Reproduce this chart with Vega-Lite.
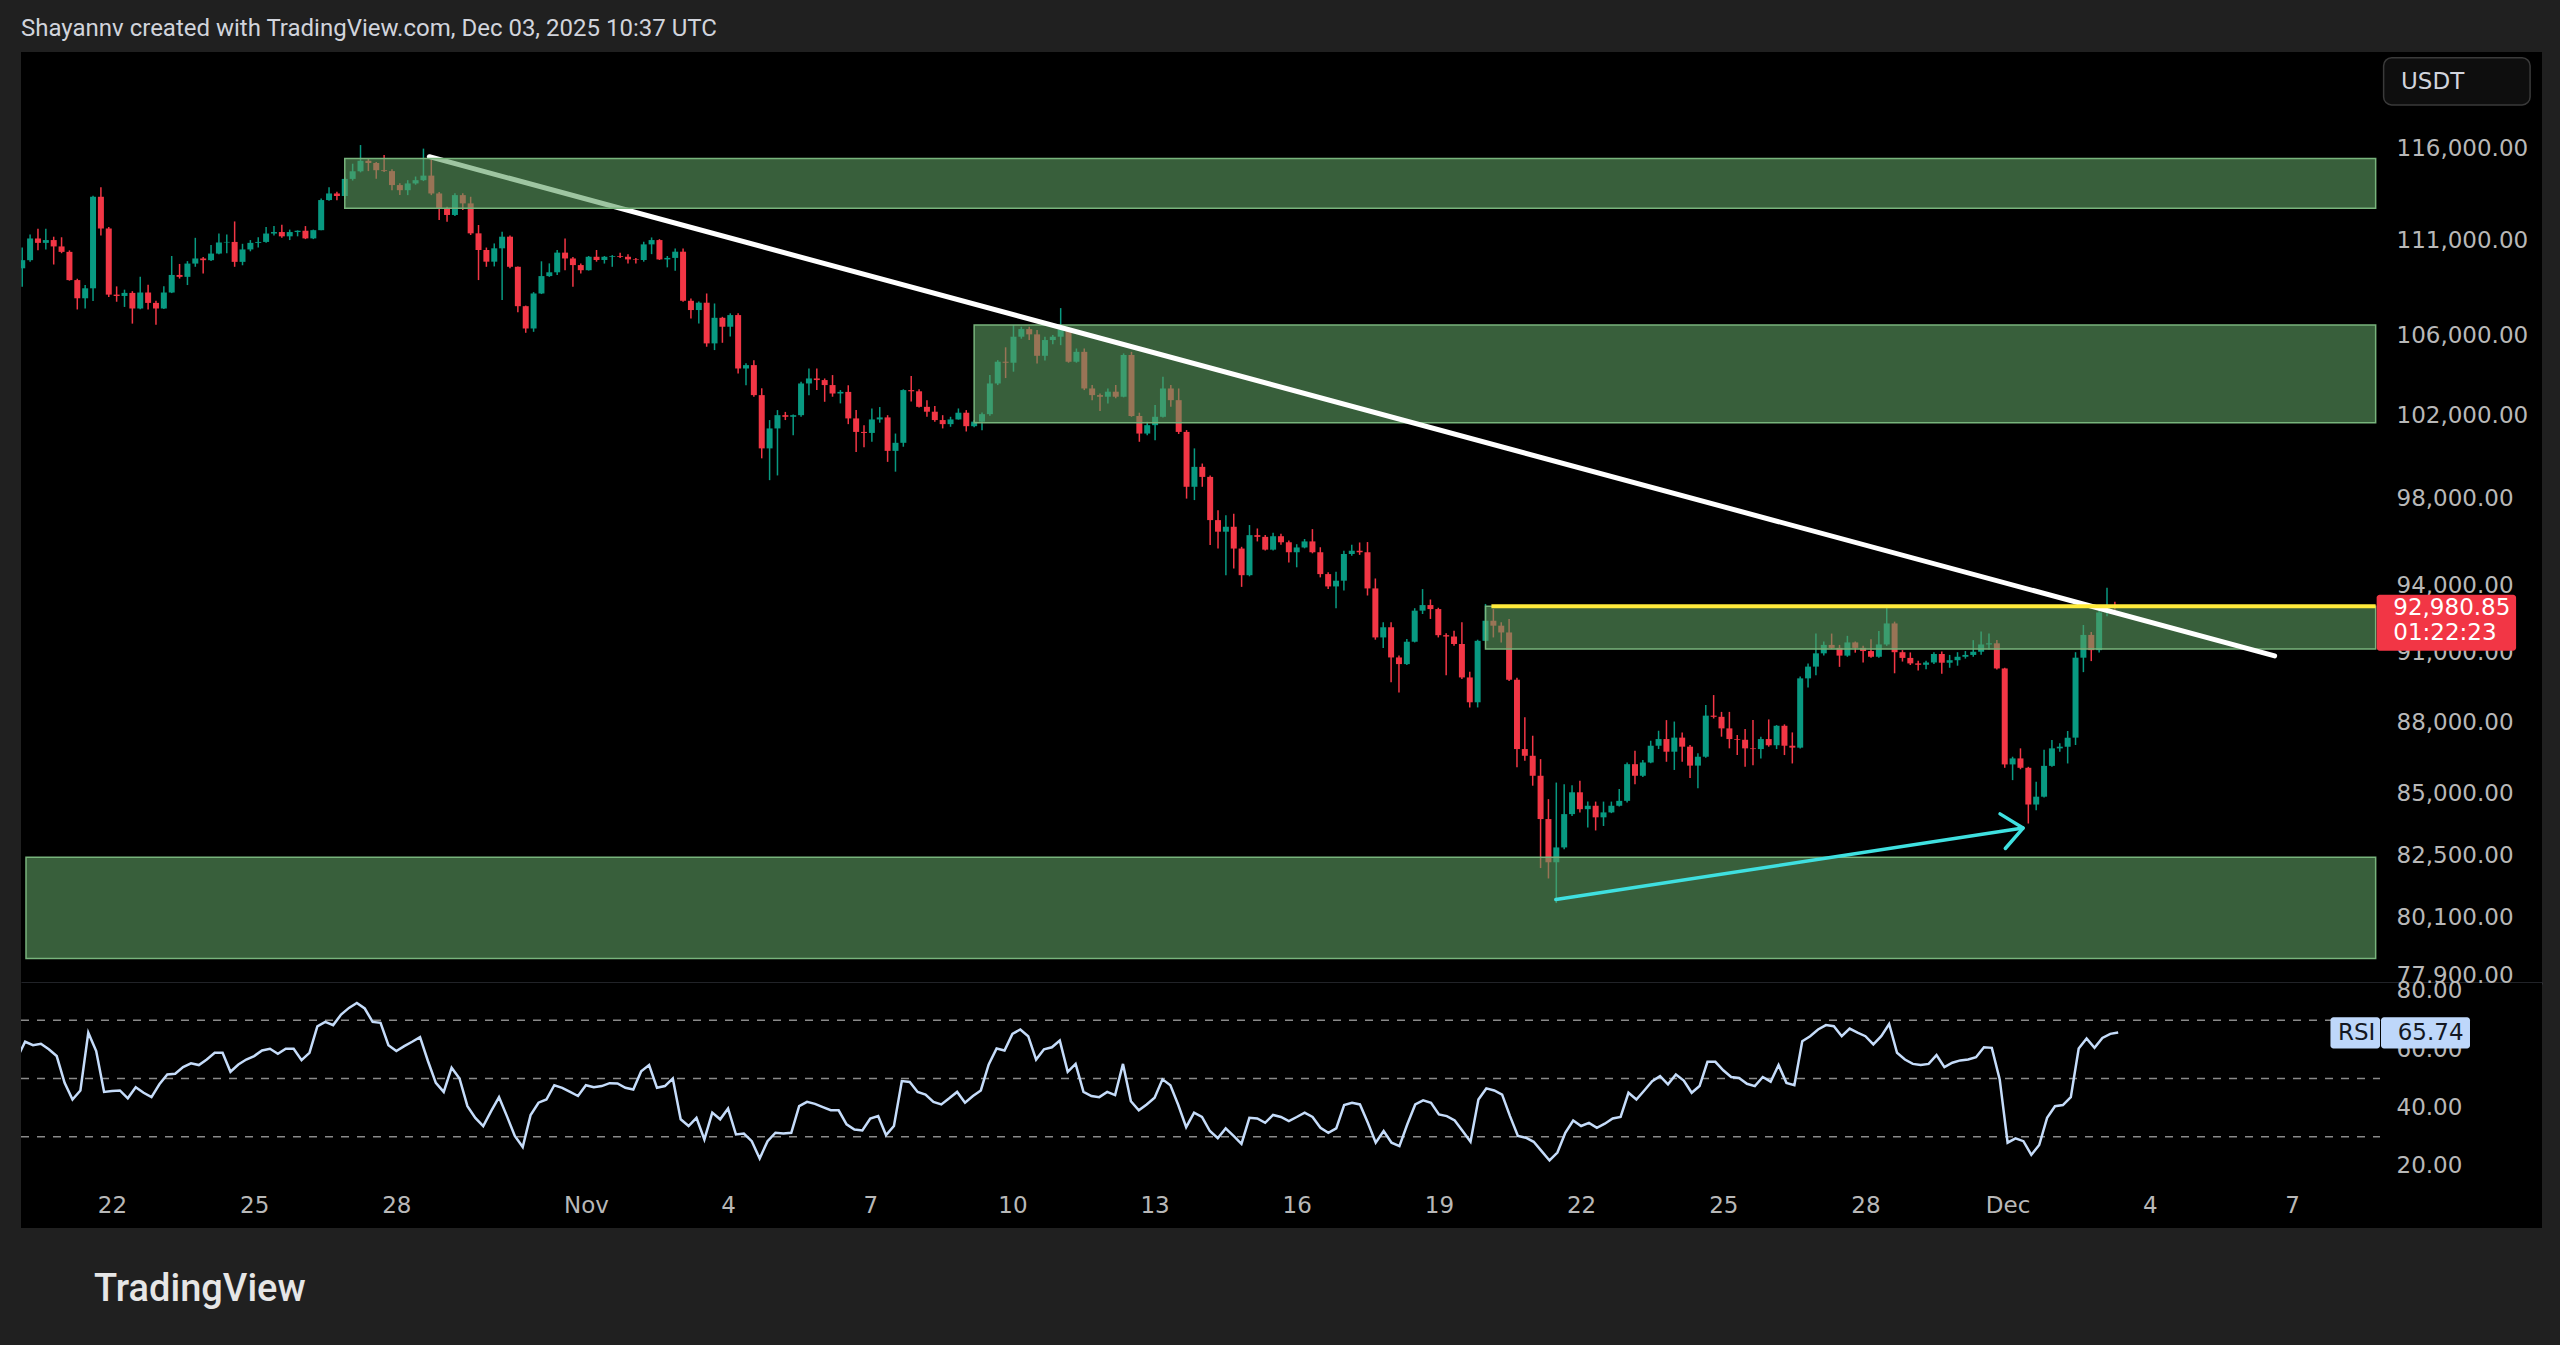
{
"$schema": "https://vega.github.io/schema/vega-lite/v6.json",
"background": "#202020",
"padding": {"left": 20, "right": 19, "top": 17, "bottom": 42},
"title": {"text": "Shayannv created with TradingView.com, Dec 03, 2025 10:37 UTC", "anchor": "start", "frame": "group", "font": "Roboto", "fontSize": 24, "fontWeight": "normal", "color": "#d1d4dc", "offset": 11},
"config": {
 "view": {"stroke": null, "fill": "#000000"},
 "axis": {"grid": false, "ticks": false, "domain": false, "labelFont": "DejaVu Sans", "labelFontSize": 23, "labelColor": "#b8b8b8"},
 "text": {"font": "DejaVu Sans"}
},
"spacing": 0,
"bounds": "flush",
"datasets": {
"candles": [
{"t":"2025-10-20T00:00Z","o":109500,"h":110600,"l":108530,"c":109930,"r":57.0},
{"t":"2025-10-20T04:00Z","o":109930,"h":111300,"l":109850,"c":111085,"r":62.6},
{"t":"2025-10-20T08:00Z","o":111085,"h":111600,"l":110460,"c":110850,"r":61.4},
{"t":"2025-10-20T12:00Z","o":110850,"h":111600,"l":110500,"c":111000,"r":61.9},
{"t":"2025-10-20T16:00Z","o":111000,"h":111180,"l":109700,"c":110660,"r":60.0},
{"t":"2025-10-20T20:00Z","o":110660,"h":111150,"l":110300,"c":110370,"r":57.7},
{"t":"2025-10-21T00:00Z","o":110370,"h":110450,"l":108850,"c":108880,"r":48.5},
{"t":"2025-10-21T04:00Z","o":108880,"h":108950,"l":107350,"c":107930,"r":42.8},
{"t":"2025-10-21T08:00Z","o":107930,"h":108620,"l":107400,"c":108450,"r":45.9},
{"t":"2025-10-21T12:00Z","o":108450,"h":113400,"l":107790,"c":113340,"r":65.7},
{"t":"2025-10-21T16:00Z","o":113340,"h":113860,"l":111250,"c":111620,"r":59.4},
{"t":"2025-10-21T20:00Z","o":111620,"h":111700,"l":108000,"c":108120,"r":45.4},
{"t":"2025-10-22T00:00Z","o":108120,"h":108550,"l":107750,"c":108050,"r":45.7},
{"t":"2025-10-22T04:00Z","o":108050,"h":108380,"l":107480,"c":108210,"r":45.9},
{"t":"2025-10-22T08:00Z","o":108210,"h":108300,"l":106620,"c":107400,"r":43.2},
{"t":"2025-10-22T12:00Z","o":107400,"h":109050,"l":107360,"c":108230,"r":47.0},
{"t":"2025-10-22T16:00Z","o":108230,"h":108640,"l":107350,"c":107690,"r":45.1},
{"t":"2025-10-22T20:00Z","o":107690,"h":107800,"l":106560,"c":107400,"r":43.6},
{"t":"2025-10-23T00:00Z","o":107400,"h":108560,"l":107380,"c":108230,"r":48.0},
{"t":"2025-10-23T04:00Z","o":108230,"h":110150,"l":108200,"c":109150,"r":51.4},
{"t":"2025-10-23T08:00Z","o":109150,"h":109730,"l":108960,"c":109050,"r":51.6},
{"t":"2025-10-23T12:00Z","o":109050,"h":109880,"l":108620,"c":109750,"r":53.9},
{"t":"2025-10-23T16:00Z","o":109750,"h":111120,"l":109580,"c":110020,"r":55.2},
{"t":"2025-10-23T20:00Z","o":110020,"h":110100,"l":109220,"c":109930,"r":54.6},
{"t":"2025-10-24T00:00Z","o":109930,"h":110730,"l":109880,"c":110280,"r":56.5},
{"t":"2025-10-24T04:00Z","o":110280,"h":111350,"l":110250,"c":110870,"r":58.8},
{"t":"2025-10-24T08:00Z","o":110870,"h":111300,"l":110300,"c":110900,"r":58.8},
{"t":"2025-10-24T12:00Z","o":110900,"h":112000,"l":109580,"c":109840,"r":52.3},
{"t":"2025-10-24T16:00Z","o":109840,"h":110800,"l":109660,"c":110500,"r":54.8},
{"t":"2025-10-24T20:00Z","o":110500,"h":111000,"l":110400,"c":110850,"r":56.5},
{"t":"2025-10-25T00:00Z","o":110850,"h":111150,"l":110600,"c":110900,"r":57.7},
{"t":"2025-10-25T04:00Z","o":110900,"h":111700,"l":110850,"c":111350,"r":59.6},
{"t":"2025-10-25T08:00Z","o":111350,"h":111750,"l":111250,"c":111430,"r":60.2},
{"t":"2025-10-25T12:00Z","o":111430,"h":111820,"l":111120,"c":111200,"r":58.5},
{"t":"2025-10-25T16:00Z","o":111200,"h":111560,"l":111000,"c":111430,"r":60.2},
{"t":"2025-10-25T20:00Z","o":111430,"h":111520,"l":111200,"c":111500,"r":60.2},
{"t":"2025-10-26T00:00Z","o":111500,"h":111750,"l":111050,"c":111090,"r":56.3},
{"t":"2025-10-26T04:00Z","o":111090,"h":111560,"l":111050,"c":111530,"r":58.8},
{"t":"2025-10-26T08:00Z","o":111530,"h":113250,"l":111530,"c":113160,"r":67.9},
{"t":"2025-10-26T12:00Z","o":113160,"h":113860,"l":113120,"c":113520,"r":69.4},
{"t":"2025-10-26T16:00Z","o":113520,"h":113610,"l":113150,"c":113380,"r":68.3},
{"t":"2025-10-26T20:00Z","o":113380,"h":114400,"l":113200,"c":114320,"r":71.9},
{"t":"2025-10-27T00:00Z","o":114320,"h":115160,"l":114230,"c":114740,"r":74.2},
{"t":"2025-10-27T04:00Z","o":114740,"h":116200,"l":114680,"c":115320,"r":75.9},
{"t":"2025-10-27T08:00Z","o":115320,"h":115450,"l":114750,"c":115200,"r":74.0},
{"t":"2025-10-27T12:00Z","o":115200,"h":115250,"l":114330,"c":114800,"r":69.4},
{"t":"2025-10-27T16:00Z","o":114800,"h":115650,"l":114700,"c":114750,"r":69.1},
{"t":"2025-10-27T20:00Z","o":114750,"h":114850,"l":113700,"c":113980,"r":61.4},
{"t":"2025-10-28T00:00Z","o":113980,"h":114080,"l":113430,"c":113700,"r":59.4},
{"t":"2025-10-28T04:00Z","o":113700,"h":114250,"l":113430,"c":114070,"r":61.1},
{"t":"2025-10-28T08:00Z","o":114070,"h":114450,"l":114000,"c":114250,"r":62.6},
{"t":"2025-10-28T12:00Z","o":114250,"h":116000,"l":114200,"c":114500,"r":64.2},
{"t":"2025-10-28T16:00Z","o":114500,"h":115380,"l":113430,"c":113520,"r":56.0},
{"t":"2025-10-28T20:00Z","o":113520,"h":113600,"l":112080,"c":112700,"r":48.5},
{"t":"2025-10-29T00:00Z","o":112700,"h":112800,"l":111990,"c":112350,"r":45.4},
{"t":"2025-10-29T04:00Z","o":112350,"h":113530,"l":112300,"c":113430,"r":53.7},
{"t":"2025-10-29T08:00Z","o":113430,"h":113530,"l":112620,"c":112980,"r":50.0},
{"t":"2025-10-29T12:00Z","o":112980,"h":113340,"l":111270,"c":111360,"r":40.5},
{"t":"2025-10-29T16:00Z","o":111360,"h":111810,"l":108880,"c":110470,"r":36.5},
{"t":"2025-10-29T20:00Z","o":110470,"h":110600,"l":109580,"c":109850,"r":33.7},
{"t":"2025-10-30T00:00Z","o":109850,"h":110820,"l":109600,"c":110560,"r":38.8},
{"t":"2025-10-30T04:00Z","o":110560,"h":111450,"l":107840,"c":111180,"r":43.6},
{"t":"2025-10-30T08:00Z","o":111180,"h":111250,"l":109500,"c":109580,"r":37.1},
{"t":"2025-10-30T12:00Z","o":109580,"h":109600,"l":107200,"c":107520,"r":30.3},
{"t":"2025-10-30T16:00Z","o":107520,"h":107550,"l":106150,"c":106370,"r":26.5},
{"t":"2025-10-30T20:00Z","o":106370,"h":108250,"l":106200,"c":108180,"r":37.5},
{"t":"2025-10-31T00:00Z","o":108180,"h":109870,"l":108150,"c":109090,"r":41.7},
{"t":"2025-10-31T04:00Z","o":109090,"h":109760,"l":109050,"c":109290,"r":42.8},
{"t":"2025-10-31T08:00Z","o":109290,"h":110470,"l":109150,"c":110330,"r":47.7},
{"t":"2025-10-31T12:00Z","o":110330,"h":111090,"l":109400,"c":110020,"r":46.8},
{"t":"2025-10-31T16:00Z","o":110020,"h":110100,"l":108530,"c":109670,"r":45.4},
{"t":"2025-10-31T20:00Z","o":109670,"h":109750,"l":109230,"c":109400,"r":44.0},
{"t":"2025-11-01T00:00Z","o":109400,"h":110150,"l":109380,"c":110110,"r":47.7},
{"t":"2025-11-01T04:00Z","o":110110,"h":110470,"l":109850,"c":109940,"r":47.0},
{"t":"2025-11-01T08:00Z","o":109940,"h":110150,"l":109750,"c":110110,"r":47.4},
{"t":"2025-11-01T12:00Z","o":110110,"h":110200,"l":109580,"c":110150,"r":48.4},
{"t":"2025-11-01T16:00Z","o":110150,"h":110330,"l":110050,"c":110110,"r":48.3},
{"t":"2025-11-01T20:00Z","o":110110,"h":110250,"l":109750,"c":109970,"r":46.8},
{"t":"2025-11-02T00:00Z","o":109970,"h":110050,"l":109750,"c":109940,"r":46.2},
{"t":"2025-11-02T04:00Z","o":109940,"h":110910,"l":109850,"c":110770,"r":52.5},
{"t":"2025-11-02T08:00Z","o":110770,"h":111140,"l":110250,"c":111000,"r":54.6},
{"t":"2025-11-02T12:00Z","o":111000,"h":111050,"l":109940,"c":109970,"r":46.8},
{"t":"2025-11-02T16:00Z","o":109970,"h":110150,"l":109550,"c":110050,"r":47.4},
{"t":"2025-11-02T20:00Z","o":110050,"h":110550,"l":109370,"c":110380,"r":50.0},
{"t":"2025-11-03T00:00Z","o":110380,"h":110550,"l":107750,"c":107800,"r":36.0},
{"t":"2025-11-03T04:00Z","o":107800,"h":107920,"l":106880,"c":107320,"r":33.7},
{"t":"2025-11-03T08:00Z","o":107320,"h":107760,"l":106630,"c":107700,"r":36.5},
{"t":"2025-11-03T12:00Z","o":107700,"h":108180,"l":105440,"c":105610,"r":29.1},
{"t":"2025-11-03T16:00Z","o":105610,"h":107660,"l":105270,"c":106920,"r":38.3},
{"t":"2025-11-03T20:00Z","o":106920,"h":106970,"l":105640,"c":106460,"r":36.0},
{"t":"2025-11-04T00:00Z","o":106460,"h":107150,"l":105960,"c":107060,"r":39.7},
{"t":"2025-11-04T04:00Z","o":107060,"h":107150,"l":104090,"c":104340,"r":30.8},
{"t":"2025-11-04T08:00Z","o":104340,"h":104600,"l":103500,"c":104510,"r":31.1},
{"t":"2025-11-04T12:00Z","o":104510,"h":104760,"l":102930,"c":103010,"r":28.5},
{"t":"2025-11-04T16:00Z","o":103010,"h":103350,"l":99920,"c":100400,"r":22.6},
{"t":"2025-11-04T20:00Z","o":100400,"h":101780,"l":98875,"c":101370,"r":28.5},
{"t":"2025-11-05T00:00Z","o":101370,"h":102270,"l":99100,"c":102020,"r":31.4},
{"t":"2025-11-05T04:00Z","o":102020,"h":102180,"l":101780,"c":101940,"r":31.1},
{"t":"2025-11-05T08:00Z","o":101940,"h":102050,"l":101040,"c":102020,"r":31.4},
{"t":"2025-11-05T12:00Z","o":102020,"h":103670,"l":101940,"c":103590,"r":40.5},
{"t":"2025-11-05T16:00Z","o":103590,"h":104340,"l":103000,"c":103840,"r":42.0},
{"t":"2025-11-05T20:00Z","o":103840,"h":104340,"l":103260,"c":103760,"r":41.3},
{"t":"2025-11-06T00:00Z","o":103760,"h":103840,"l":102680,"c":103510,"r":40.2},
{"t":"2025-11-06T04:00Z","o":103510,"h":104010,"l":102930,"c":103090,"r":39.1},
{"t":"2025-11-06T08:00Z","o":103090,"h":103260,"l":102600,"c":103170,"r":39.1},
{"t":"2025-11-06T12:00Z","o":103170,"h":103500,"l":101580,"c":101860,"r":34.3},
{"t":"2025-11-06T16:00Z","o":101860,"h":102268,"l":100230,"c":101200,"r":32.5},
{"t":"2025-11-06T20:00Z","o":101200,"h":101530,"l":100460,"c":101150,"r":32.2},
{"t":"2025-11-07T00:00Z","o":101150,"h":102350,"l":100720,"c":101810,"r":36.3},
{"t":"2025-11-07T04:00Z","o":101810,"h":102420,"l":101650,"c":101910,"r":37.1},
{"t":"2025-11-07T08:00Z","o":101910,"h":102020,"l":99750,"c":100280,"r":30.6},
{"t":"2025-11-07T12:00Z","o":100280,"h":101120,"l":99280,"c":100670,"r":33.7},
{"t":"2025-11-07T16:00Z","o":100670,"h":103300,"l":100480,"c":103260,"r":49.1},
{"t":"2025-11-07T20:00Z","o":103260,"h":103960,"l":102700,"c":103200,"r":48.8},
{"t":"2025-11-08T00:00Z","o":103200,"h":103300,"l":102400,"c":102430,"r":45.4},
{"t":"2025-11-08T04:00Z","o":102430,"h":102760,"l":101940,"c":102190,"r":44.5},
{"t":"2025-11-08T08:00Z","o":102190,"h":102470,"l":101700,"c":101780,"r":42.0},
{"t":"2025-11-08T12:00Z","o":101780,"h":102020,"l":101370,"c":101580,"r":41.1},
{"t":"2025-11-08T16:00Z","o":101580,"h":101940,"l":101450,"c":101810,"r":43.2},
{"t":"2025-11-08T20:00Z","o":101810,"h":102350,"l":101800,"c":102140,"r":45.4},
{"t":"2025-11-09T00:00Z","o":102140,"h":102270,"l":101220,"c":101480,"r":41.7},
{"t":"2025-11-09T04:00Z","o":101480,"h":101780,"l":101430,"c":101700,"r":44.0},
{"t":"2025-11-09T08:00Z","o":101700,"h":102150,"l":101280,"c":102070,"r":45.9},
{"t":"2025-11-09T12:00Z","o":102070,"h":104010,"l":101990,"c":103590,"r":54.8},
{"t":"2025-11-09T16:00Z","o":103590,"h":104760,"l":103510,"c":104680,"r":60.3},
{"t":"2025-11-09T20:00Z","o":104680,"h":105410,"l":103860,"c":104630,"r":59.6},
{"t":"2025-11-10T00:00Z","o":104630,"h":106550,"l":104180,"c":105950,"r":65.3},
{"t":"2025-11-10T04:00Z","o":105950,"h":106460,"l":105850,"c":106340,"r":66.8},
{"t":"2025-11-10T08:00Z","o":106340,"h":106460,"l":105780,"c":106070,"r":64.5},
{"t":"2025-11-10T12:00Z","o":106070,"h":106290,"l":104590,"c":104980,"r":56.5},
{"t":"2025-11-10T16:00Z","o":104980,"h":105950,"l":104740,"c":105780,"r":60.0},
{"t":"2025-11-10T20:00Z","o":105780,"h":106040,"l":105560,"c":105950,"r":60.7},
{"t":"2025-11-11T00:00Z","o":105950,"h":107420,"l":105520,"c":106320,"r":63.0},
{"t":"2025-11-11T04:00Z","o":106320,"h":106370,"l":104630,"c":104680,"r":52.3},
{"t":"2025-11-11T08:00Z","o":104680,"h":105350,"l":104630,"c":105180,"r":55.0},
{"t":"2025-11-11T12:00Z","o":105180,"h":105350,"l":103260,"c":103340,"r":45.4},
{"t":"2025-11-11T16:00Z","o":103340,"h":103510,"l":102760,"c":103010,"r":44.0},
{"t":"2025-11-11T20:00Z","o":103010,"h":103090,"l":102230,"c":102930,"r":43.6},
{"t":"2025-11-12T00:00Z","o":102930,"h":103340,"l":102600,"c":103180,"r":45.4},
{"t":"2025-11-12T04:00Z","o":103180,"h":103510,"l":102850,"c":102930,"r":44.3},
{"t":"2025-11-12T08:00Z","o":102930,"h":105100,"l":102900,"c":105020,"r":55.0},
{"t":"2025-11-12T12:00Z","o":105020,"h":105180,"l":101940,"c":101980,"r":42.2},
{"t":"2025-11-12T16:00Z","o":101980,"h":102140,"l":100720,"c":101120,"r":39.1},
{"t":"2025-11-12T20:00Z","o":101120,"h":101700,"l":101040,"c":101530,"r":41.1},
{"t":"2025-11-13T00:00Z","o":101530,"h":102520,"l":100800,"c":101940,"r":43.4},
{"t":"2025-11-13T04:00Z","o":101940,"h":103920,"l":101900,"c":103340,"r":49.7},
{"t":"2025-11-13T08:00Z","o":103340,"h":103510,"l":102430,"c":102760,"r":47.7},
{"t":"2025-11-13T12:00Z","o":102760,"h":103340,"l":101100,"c":101200,"r":40.9},
{"t":"2025-11-13T16:00Z","o":101200,"h":101290,"l":98000,"c":98560,"r":33.3},
{"t":"2025-11-13T20:00Z","o":98560,"h":100400,"l":97930,"c":99510,"r":38.3},
{"t":"2025-11-14T00:00Z","o":99510,"h":99670,"l":98560,"c":99030,"r":36.8},
{"t":"2025-11-14T04:00Z","o":99030,"h":99100,"l":95830,"c":96990,"r":32.0},
{"t":"2025-11-14T08:00Z","o":96990,"h":97450,"l":95670,"c":96450,"r":29.5},
{"t":"2025-11-14T12:00Z","o":96450,"h":97220,"l":94450,"c":96680,"r":32.9},
{"t":"2025-11-14T16:00Z","o":96680,"h":97290,"l":94750,"c":95670,"r":30.3},
{"t":"2025-11-14T20:00Z","o":95670,"h":95750,"l":93920,"c":94450,"r":27.6},
{"t":"2025-11-15T00:00Z","o":94450,"h":96760,"l":94400,"c":96290,"r":36.5},
{"t":"2025-11-15T04:00Z","o":96290,"h":96600,"l":96000,"c":96210,"r":36.3},
{"t":"2025-11-15T08:00Z","o":96210,"h":96300,"l":95580,"c":95620,"r":34.8},
{"t":"2025-11-15T12:00Z","o":95620,"h":96400,"l":95580,"c":96240,"r":37.5},
{"t":"2025-11-15T16:00Z","o":96240,"h":96360,"l":95840,"c":95960,"r":36.8},
{"t":"2025-11-15T20:00Z","o":95960,"h":96040,"l":95030,"c":95500,"r":35.4},
{"t":"2025-11-16T00:00Z","o":95500,"h":95870,"l":94810,"c":95720,"r":36.8},
{"t":"2025-11-16T04:00Z","o":95720,"h":96110,"l":95680,"c":96000,"r":38.3},
{"t":"2025-11-16T08:00Z","o":96000,"h":96570,"l":95450,"c":95500,"r":36.8},
{"t":"2025-11-16T12:00Z","o":95500,"h":95730,"l":94350,"c":94500,"r":33.1},
{"t":"2025-11-16T16:00Z","o":94500,"h":94580,"l":93820,"c":93940,"r":31.4},
{"t":"2025-11-16T20:00Z","o":93940,"h":94610,"l":92960,"c":94200,"r":32.9},
{"t":"2025-11-17T00:00Z","o":94200,"h":95570,"l":93760,"c":95420,"r":40.9},
{"t":"2025-11-17T04:00Z","o":95420,"h":95840,"l":95340,"c":95570,"r":41.7},
{"t":"2025-11-17T08:00Z","o":95570,"h":95950,"l":95380,"c":95500,"r":41.1},
{"t":"2025-11-17T12:00Z","o":95500,"h":95970,"l":93530,"c":93850,"r":34.8},
{"t":"2025-11-17T16:00Z","o":93850,"h":94300,"l":91560,"c":91660,"r":28.0},
{"t":"2025-11-17T20:00Z","o":91660,"h":92330,"l":91190,"c":92110,"r":32.0},
{"t":"2025-11-18T00:00Z","o":92110,"h":92330,"l":89700,"c":90780,"r":28.0},
{"t":"2025-11-18T04:00Z","o":90780,"h":90860,"l":89260,"c":90490,"r":26.8},
{"t":"2025-11-18T08:00Z","o":90490,"h":91590,"l":90450,"c":91470,"r":34.3},
{"t":"2025-11-18T12:00Z","o":91470,"h":92960,"l":91440,"c":92850,"r":41.1},
{"t":"2025-11-18T16:00Z","o":92850,"h":93820,"l":92700,"c":93100,"r":42.5},
{"t":"2025-11-18T20:00Z","o":93100,"h":93350,"l":92480,"c":92920,"r":41.7},
{"t":"2025-11-19T00:00Z","o":92920,"h":92980,"l":91660,"c":91760,"r":37.7},
{"t":"2025-11-19T04:00Z","o":91760,"h":91850,"l":90010,"c":91700,"r":37.1},
{"t":"2025-11-19T08:00Z","o":91700,"h":91960,"l":91290,"c":91370,"r":35.6},
{"t":"2025-11-19T12:00Z","o":91370,"h":92330,"l":89840,"c":89910,"r":32.0},
{"t":"2025-11-19T16:00Z","o":89910,"h":90160,"l":88620,"c":88840,"r":28.3},
{"t":"2025-11-19T20:00Z","o":88840,"h":91560,"l":88620,"c":91510,"r":42.8},
{"t":"2025-11-20T00:00Z","o":91510,"h":93150,"l":91500,"c":92400,"r":46.6},
{"t":"2025-11-20T04:00Z","o":92400,"h":92920,"l":91660,"c":92180,"r":45.9},
{"t":"2025-11-20T08:00Z","o":92180,"h":92330,"l":91440,"c":91880,"r":44.5},
{"t":"2025-11-20T12:00Z","o":91880,"h":92480,"l":89760,"c":89810,"r":37.1},
{"t":"2025-11-20T16:00Z","o":89810,"h":89900,"l":86100,"c":86860,"r":30.3},
{"t":"2025-11-20T20:00Z","o":86860,"h":88200,"l":86370,"c":86580,"r":29.7},
{"t":"2025-11-21T00:00Z","o":86580,"h":87420,"l":85340,"c":85750,"r":28.3},
{"t":"2025-11-21T04:00Z","o":85750,"h":86440,"l":82020,"c":83980,"r":25.1},
{"t":"2025-11-21T08:00Z","o":83980,"h":84790,"l":81610,"c":82250,"r":21.9},
{"t":"2025-11-21T12:00Z","o":82250,"h":85470,"l":80650,"c":82840,"r":24.6},
{"t":"2025-11-21T16:00Z","o":82840,"h":85400,"l":82770,"c":84180,"r":31.4},
{"t":"2025-11-21T20:00Z","o":84180,"h":85360,"l":84100,"c":85070,"r":35.6},
{"t":"2025-11-22T00:00Z","o":85070,"h":85540,"l":84250,"c":84380,"r":33.7},
{"t":"2025-11-22T04:00Z","o":84380,"h":84690,"l":83640,"c":84520,"r":34.8},
{"t":"2025-11-22T08:00Z","o":84520,"h":84690,"l":83520,"c":84050,"r":33.1},
{"t":"2025-11-22T12:00Z","o":84050,"h":84690,"l":83700,"c":84250,"r":34.5},
{"t":"2025-11-22T16:00Z","o":84250,"h":84690,"l":84220,"c":84520,"r":36.3},
{"t":"2025-11-22T20:00Z","o":84520,"h":85200,"l":84490,"c":84720,"r":36.8},
{"t":"2025-11-23T00:00Z","o":84720,"h":86300,"l":84650,"c":86230,"r":45.1},
{"t":"2025-11-23T04:00Z","o":86230,"h":86790,"l":85400,"c":85750,"r":42.8},
{"t":"2025-11-23T08:00Z","o":85750,"h":86400,"l":85700,"c":86300,"r":45.9},
{"t":"2025-11-23T12:00Z","o":86300,"h":87210,"l":86270,"c":87000,"r":49.1},
{"t":"2025-11-23T16:00Z","o":87000,"h":87630,"l":86860,"c":87280,"r":50.8},
{"t":"2025-11-23T20:00Z","o":87280,"h":88080,"l":86330,"c":86750,"r":48.0},
{"t":"2025-11-24T00:00Z","o":86750,"h":88020,"l":85990,"c":87340,"r":51.4},
{"t":"2025-11-24T04:00Z","o":87340,"h":87560,"l":86330,"c":86960,"r":49.3},
{"t":"2025-11-24T08:00Z","o":86960,"h":87030,"l":85660,"c":86170,"r":45.1},
{"t":"2025-11-24T12:00Z","o":86170,"h":86690,"l":85240,"c":86540,"r":47.4},
{"t":"2025-11-24T16:00Z","o":86540,"h":88720,"l":86500,"c":88270,"r":55.7},
{"t":"2025-11-24T20:00Z","o":88270,"h":89150,"l":88150,"c":88220,"r":55.7},
{"t":"2025-11-25T00:00Z","o":88220,"h":88430,"l":87380,"c":87730,"r":52.8},
{"t":"2025-11-25T04:00Z","o":87730,"h":88430,"l":86890,"c":87280,"r":50.5},
{"t":"2025-11-25T08:00Z","o":87280,"h":87450,"l":86610,"c":87250,"r":50.2},
{"t":"2025-11-25T12:00Z","o":87250,"h":87700,"l":86120,"c":86890,"r":48.2},
{"t":"2025-11-25T16:00Z","o":86890,"h":88080,"l":86190,"c":86860,"r":47.4},
{"t":"2025-11-25T20:00Z","o":86860,"h":87380,"l":86470,"c":87280,"r":50.5},
{"t":"2025-11-26T00:00Z","o":87280,"h":88110,"l":86960,"c":87020,"r":48.9},
{"t":"2025-11-26T04:00Z","o":87020,"h":87870,"l":86860,"c":87840,"r":54.6},
{"t":"2025-11-26T08:00Z","o":87840,"h":87900,"l":86610,"c":87000,"r":48.5},
{"t":"2025-11-26T12:00Z","o":87000,"h":87560,"l":86260,"c":86920,"r":47.7},
{"t":"2025-11-26T16:00Z","o":86920,"h":89950,"l":86880,"c":89870,"r":62.8},
{"t":"2025-11-26T20:00Z","o":89870,"h":90520,"l":89470,"c":90380,"r":64.5},
{"t":"2025-11-27T00:00Z","o":90380,"h":91830,"l":90010,"c":90960,"r":66.8},
{"t":"2025-11-27T04:00Z","o":90960,"h":91480,"l":90860,"c":91330,"r":68.3},
{"t":"2025-11-27T08:00Z","o":91330,"h":91830,"l":91150,"c":91200,"r":67.9},
{"t":"2025-11-27T12:00Z","o":91200,"h":91330,"l":90370,"c":90860,"r":64.5},
{"t":"2025-11-27T16:00Z","o":90860,"h":91730,"l":90810,"c":91440,"r":67.1},
{"t":"2025-11-27T20:00Z","o":91440,"h":91480,"l":90990,"c":91200,"r":65.7},
{"t":"2025-11-28T00:00Z","o":91200,"h":91290,"l":90560,"c":91060,"r":64.5},
{"t":"2025-11-28T04:00Z","o":91060,"h":91580,"l":90770,"c":90810,"r":61.7},
{"t":"2025-11-28T08:00Z","o":90810,"h":91940,"l":90770,"c":91350,"r":64.5},
{"t":"2025-11-28T12:00Z","o":91350,"h":93000,"l":91290,"c":92280,"r":68.7},
{"t":"2025-11-28T16:00Z","o":92280,"h":92360,"l":90090,"c":91010,"r":58.8},
{"t":"2025-11-28T20:00Z","o":91010,"h":91100,"l":90600,"c":90760,"r":56.5},
{"t":"2025-11-29T00:00Z","o":90760,"h":91000,"l":90450,"c":90520,"r":55.0},
{"t":"2025-11-29T04:00Z","o":90520,"h":90640,"l":90210,"c":90460,"r":54.6},
{"t":"2025-11-29T08:00Z","o":90460,"h":90640,"l":90270,"c":90560,"r":55.0},
{"t":"2025-11-29T12:00Z","o":90560,"h":91010,"l":90490,"c":90930,"r":58.0},
{"t":"2025-11-29T16:00Z","o":90930,"h":91040,"l":90070,"c":90550,"r":53.9},
{"t":"2025-11-29T20:00Z","o":90550,"h":90890,"l":90330,"c":90660,"r":55.4},
{"t":"2025-11-30T00:00Z","o":90660,"h":91010,"l":90420,"c":90810,"r":56.2},
{"t":"2025-11-30T04:00Z","o":90810,"h":91060,"l":90730,"c":90890,"r":56.5},
{"t":"2025-11-30T08:00Z","o":90890,"h":91540,"l":90810,"c":91030,"r":57.3},
{"t":"2025-11-30T12:00Z","o":91030,"h":91920,"l":90900,"c":91350,"r":60.7},
{"t":"2025-11-30T16:00Z","o":91350,"h":91830,"l":91130,"c":91400,"r":60.5},
{"t":"2025-11-30T20:00Z","o":91400,"h":91550,"l":90250,"c":90300,"r":49.7},
{"t":"2025-12-01T00:00Z","o":90300,"h":90330,"l":86080,"c":86220,"r":28.0},
{"t":"2025-12-01T04:00Z","o":86220,"h":86540,"l":85570,"c":86470,"r":29.5},
{"t":"2025-12-01T08:00Z","o":86470,"h":86890,"l":86020,"c":86080,"r":28.5},
{"t":"2025-12-01T12:00Z","o":86080,"h":86120,"l":83800,"c":84570,"r":23.8},
{"t":"2025-12-01T16:00Z","o":84570,"h":85500,"l":84340,"c":84890,"r":27.2},
{"t":"2025-12-01T20:00Z","o":84890,"h":86830,"l":84860,"c":86160,"r":36.5},
{"t":"2025-12-02T00:00Z","o":86160,"h":87240,"l":86120,"c":86890,"r":40.5},
{"t":"2025-12-02T04:00Z","o":86890,"h":87100,"l":86750,"c":86960,"r":40.9},
{"t":"2025-12-02T08:00Z","o":86960,"h":87620,"l":86260,"c":87340,"r":43.6},
{"t":"2025-12-02T12:00Z","o":87340,"h":91010,"l":87030,"c":90770,"r":60.3},
{"t":"2025-12-02T16:00Z","o":90770,"h":92210,"l":90140,"c":91770,"r":63.7},
{"t":"2025-12-02T20:00Z","o":91770,"h":91900,"l":90620,"c":91100,"r":60.5},
{"t":"2025-12-03T00:00Z","o":91100,"h":93030,"l":91000,"c":92770,"r":63.9},
{"t":"2025-12-03T04:00Z","o":92770,"h":93880,"l":92600,"c":93050,"r":65.3},
{"t":"2025-12-03T08:00Z","o":93050,"h":93250,"l":92850,"c":92980.85,"r":65.74}
],
"zones": [
{"a":"2025-10-20T01:55Z","b":"2025-12-08T20:36Z","p1":78520,"p2":82450,"g":"u"},
{"a":"2025-11-09T04:00Z","b":"2025-12-08T20:36Z","p1":101650,"p2":106550,"g":"u"},
{"a":"2025-11-20T00:00Z","b":"2025-12-08T20:36Z","p1":91150,"p2":93050,"g":"u"},
{"a":"2025-10-26T20:00Z","b":"2025-12-08T20:36Z","p1":112720,"p2":115450,"g":"o"}
],
"trend": [{"t":"2025-10-28T15:00Z","p":115550},{"t":"2025-12-06T17:14Z","p":90850}],
"yellow": [{"a":"2025-11-20T03:00Z","b":"2025-12-08T20:36Z","p":93050}],
"arrow": [{"t":"2025-11-21T11:46Z","p":80790},{"t":"2025-12-01T09:19Z","p":83616}],
"ahead": [{"t":"2025-12-01T09:19Z","p":83616}],
"pbox": [{"a":"2025-12-08T21:06Z","b":"2025-12-11T20:00Z","p1":91070,"p2":93560}],
"ptext": [{"t":"2025-12-09T05:34Z","p":92950,"s":"92,980.85"},{"t":"2025-12-09T05:34Z","p":91860,"s":"01:22:23"}],
"ubox": [{"a":"2025-12-09T00:39Z","b":"2025-12-12T03:07Z","p1":118470,"p2":121190}],
"utext": [{"t":"2025-12-09T09:30Z","p":119760,"s":"USDT"}],
"levels": [
{"a":"2025-10-20T01:55Z","b":"2025-12-08T20:36Z","v":70},
{"a":"2025-10-20T01:55Z","b":"2025-12-08T20:36Z","v":50},
{"a":"2025-10-20T01:55Z","b":"2025-12-08T20:36Z","v":30}
],
"rbox": [
{"a":"2025-12-07T19:30Z","b":"2025-12-08T20:36Z","v1":60.3,"v2":71.0},
{"a":"2025-12-08T21:06Z","b":"2025-12-10T18:10Z","v1":60.3,"v2":71.0}
],
"rtext": [
{"t":"2025-12-07T23:20Z","v":65.7,"s":"RSI"},
{"t":"2025-12-09T05:34Z","v":65.7,"s":"65.74"}
]
},
"vconcat": [
{
"width": 2521, "height": 931,
"layer": [
{"data": {"name": "candles"}, "mark": {"type": "rule", "strokeWidth": 1.5, "clip": true},
 "encoding": {
  "x": {"field": "t", "type": "temporal", "title": null, "scale": {"type": "utc", "domain": [1760925300000, 1765521480000], "nice": false}, "axis": {"orient": "bottom", "labels": false, "domain": true, "domainColor": "#434651", "domainWidth": 2}},
  "y": {"field": "l", "type": "quantitative", "title": null, "scale": {"type": "log", "domain": [77602, 121527], "nice": false}, "axis": {"orient": "right", "offset": -146, "labelAlign": "left", "labelPadding": 0, "labelFont": "DejaVu Sans", "labelFontSize": 23, "values": [116000, 111000, 106000, 102000, 98000, 94000, 91000, 88000, 85000, 82500, 80100, 77900], "format": ",.2f", "labelOverlap": false}},
  "y2": {"field": "h"},
  "color": {"condition": {"test": "datum.c >= datum.o", "value": "#089981"}, "value": "#f23645"}
 }},
{"data": {"name": "candles"}, "mark": {"type": "bar", "size": 6, "clip": true},
 "encoding": {
  "x": {"field": "t", "type": "temporal", "title": null},
  "y": {"field": "o", "type": "quantitative", "title": null},
  "y2": {"field": "c"},
  "color": {"condition": {"test": "datum.c >= datum.o", "value": "#089981"}, "value": "#f23645"}
 }},
{"data": {"name": "zones"}, "transform": [{"filter": "datum.g == 'u'"}],
 "mark": {"type": "rect", "fill": "#5e9f63", "fillOpacity": 0.6, "stroke": "#78b47c", "strokeWidth": 1.5, "clip": true},
 "encoding": {"x": {"field": "a", "type": "temporal", "title": null}, "x2": {"field": "b"}, "y": {"field": "p1", "type": "quantitative", "title": null}, "y2": {"field": "p2"}}},
{"data": {"name": "trend"}, "mark": {"type": "line", "color": "#ffffff", "strokeWidth": 5, "strokeCap": "round"},
 "encoding": {"x": {"field": "t", "type": "temporal", "title": null}, "y": {"field": "p", "type": "quantitative", "title": null}}},
{"data": {"name": "zones"}, "transform": [{"filter": "datum.g == 'o'"}],
 "mark": {"type": "rect", "fill": "#5e9f63", "fillOpacity": 0.6, "stroke": "#78b47c", "strokeWidth": 1.5},
 "encoding": {"x": {"field": "a", "type": "temporal", "title": null}, "x2": {"field": "b"}, "y": {"field": "p1", "type": "quantitative", "title": null}, "y2": {"field": "p2"}}},
{"data": {"name": "yellow"}, "mark": {"type": "rule", "color": "#ffeb3b", "strokeWidth": 4},
 "encoding": {"x": {"field": "a", "type": "temporal", "title": null}, "x2": {"field": "b"}, "y": {"field": "p", "type": "quantitative", "title": null}}},
{"data": {"name": "arrow"}, "mark": {"type": "line", "color": "#3fe0e0", "strokeWidth": 3.5, "strokeCap": "round"},
 "encoding": {"x": {"field": "t", "type": "temporal", "title": null}, "y": {"field": "p", "type": "quantitative", "title": null}}},
{"data": {"name": "ahead"}, "mark": {"type": "point", "shape": "M -1 -0.85 L 0 0 L -1 0.85", "filled": false, "stroke": "#3fe0e0", "strokeWidth": 3.5, "size": 1700, "angle": 351.3, "opacity": 1, "strokeCap": "round", "strokeJoin": "round"},
 "encoding": {"x": {"field": "t", "type": "temporal", "title": null}, "y": {"field": "p", "type": "quantitative", "title": null}}},
{"data": {"name": "pbox"}, "mark": {"type": "rect", "fill": "#f23645", "cornerRadius": 3},
 "encoding": {"x": {"field": "a", "type": "temporal", "title": null}, "x2": {"field": "b"}, "y": {"field": "p1", "type": "quantitative", "title": null}, "y2": {"field": "p2"}}},
{"data": {"name": "ptext"}, "mark": {"type": "text", "align": "left", "baseline": "middle", "font": "DejaVu Sans", "fontSize": 23, "color": "#ffffff"},
 "encoding": {"x": {"field": "t", "type": "temporal", "title": null}, "y": {"field": "p", "type": "quantitative", "title": null}, "text": {"field": "s"}}},
{"data": {"name": "ubox"}, "mark": {"type": "rect", "fill": "#0e0e0e", "stroke": "#3a3a3a", "strokeWidth": 1.5, "cornerRadius": 8},
 "encoding": {"x": {"field": "a", "type": "temporal", "title": null}, "x2": {"field": "b"}, "y": {"field": "p1", "type": "quantitative", "title": null}, "y2": {"field": "p2"}}},
{"data": {"name": "utext"}, "mark": {"type": "text", "align": "left", "baseline": "middle", "font": "DejaVu Sans", "fontSize": 23, "color": "#d1d4dc"},
 "encoding": {"x": {"field": "t", "type": "temporal", "title": null}, "y": {"field": "p", "type": "quantitative", "title": null}, "text": {"field": "s"}}}
]
},
{
"width": 2521, "height": 245,
"title": {"text": "TradingView", "orient": "bottom", "anchor": "start", "frame": "group", "dx": 73, "offset": 43, "font": "Roboto", "fontSize": 38, "fontWeight": 500, "color": "#e6e6e6"},
"layer": [
{"data": {"name": "levels"}, "mark": {"type": "rule", "color": "#8a8a8a", "strokeWidth": 1.5, "strokeDash": [8, 8]},
 "encoding": {
  "x": {"field": "a", "type": "temporal", "title": null, "scale": {"type": "utc", "domain": [1760925300000, 1765521480000], "nice": false}, "axis": {"orient": "bottom", "offset": -34, "labelPadding": 0, "labelFont": "DejaVu Sans", "labelFontSize": 23, "values": [1761091200000, 1761350400000, 1761609600000, 1761955200000, 1762214400000, 1762473600000, 1762732800000, 1762992000000, 1763251200000, 1763510400000, 1763769600000, 1764028800000, 1764288000000, 1764547200000, 1764806400000, 1765065600000], "labelExpr": "utcdate(datum.value) == 1 ? utcFormat(datum.value, '%b') : utcFormat(datum.value, '%-d')", "labelOverlap": false, "labelFlush": false}},
  "x2": {"field": "b"},
  "y": {"field": "v", "type": "quantitative", "title": null, "scale": {"domain": [-1.26, 82.74], "nice": false, "zero": false}, "axis": {"orient": "right", "offset": -146, "labelAlign": "left", "labelPadding": 0, "labelFont": "DejaVu Sans", "labelFontSize": 23, "values": [80, 60, 40, 20], "format": ".2f", "labelOverlap": false}}
 }},
{"data": {"name": "candles"}, "mark": {"type": "line", "color": "#c5dcfa", "strokeWidth": 2.5, "clip": true},
 "encoding": {"x": {"field": "t", "type": "temporal", "title": null}, "y": {"field": "r", "type": "quantitative", "title": null}}},
{"data": {"name": "rbox"}, "mark": {"type": "rect", "fill": "#bed7fa", "cornerRadius": 3},
 "encoding": {"x": {"field": "a", "type": "temporal", "title": null}, "x2": {"field": "b"}, "y": {"field": "v1", "type": "quantitative", "title": null}, "y2": {"field": "v2"}}},
{"data": {"name": "rtext"}, "mark": {"type": "text", "align": "left", "baseline": "middle", "font": "DejaVu Sans", "fontSize": 23, "color": "#131722"},
 "encoding": {"x": {"field": "t", "type": "temporal", "title": null}, "y": {"field": "v", "type": "quantitative", "title": null}, "text": {"field": "s"}}}
]
}
]
}
